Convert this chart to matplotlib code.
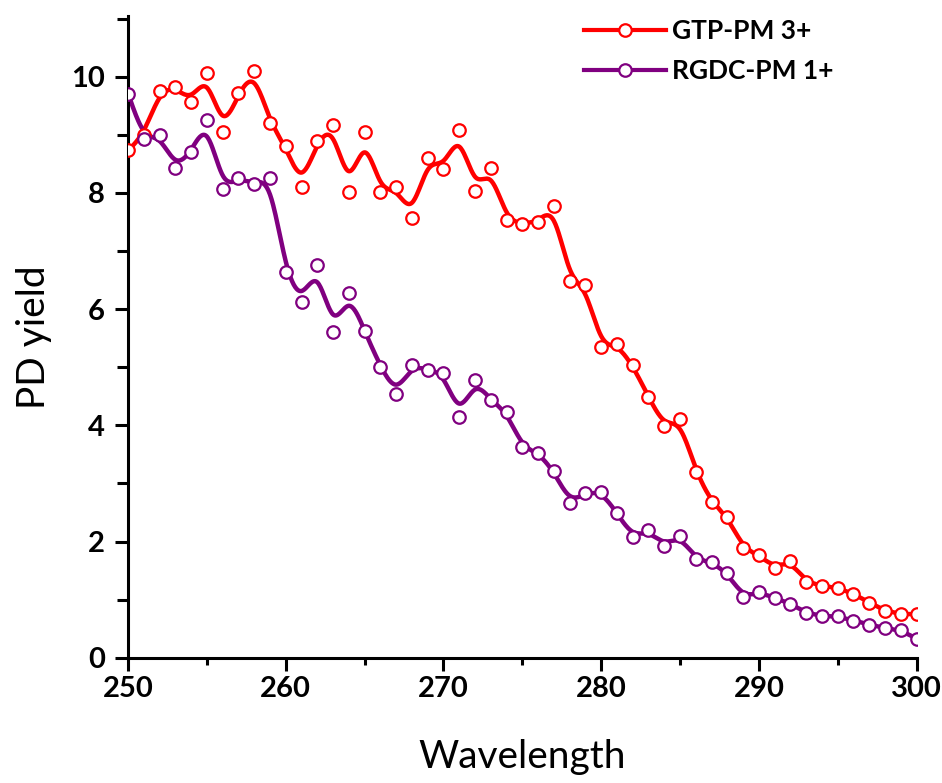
import numpy as np
import matplotlib
matplotlib.use("Agg")
import matplotlib.pyplot as plt
from matplotlib.ticker import MultipleLocator


# data
wavelength = list(range(250, 301))

gtp_pm3 = [8.73, 9.00, 9.75, 9.82, 9.57, 10.06, 9.05, 9.72, 10.10, 9.20,
           8.80, 8.10, 8.90, 9.16, 8.01, 9.04, 8.01, 8.10, 7.57, 8.60,
           8.41, 9.08, 8.04, 8.43, 7.53, 7.47, 7.50, 7.78, 6.49, 6.41,
           5.35, 5.40, 5.03, 4.49, 3.98, 4.10, 3.20, 2.68, 2.43, 1.89,
           1.76, 1.55, 1.67, 1.30, 1.24, 1.20, 1.10, 0.95, 0.81, 0.75,
           0.75]

rgdc_pm1 = [9.71, 8.92, 9.00, 8.43, 8.70, 9.26, 8.07, 8.26, 8.15, 8.26,
            6.63, 6.12, 6.76, 5.60, 6.28, 5.62, 5.01, 4.54, 5.03, 4.96,
            4.90, 4.14, 4.78, 4.43, 4.23, 3.62, 3.53, 3.21, 2.67, 2.83,
            2.86, 2.49, 2.08, 2.19, 1.93, 2.10, 1.70, 1.64, 1.46, 1.04,
            1.13, 1.03, 0.93, 0.77, 0.72, 0.71, 0.64, 0.57, 0.51, 0.47,
            0.33]

series_names = ["GTP-PM 3+", "RGDC-PM 1+"]
series_colors = ["#ff0000", "#800080"]


# uniform cubic B-spline using the data as control points
def bspline( x, y, steps=20 ):

    x = np.asarray( x, dtype=float )

    y = np.asarray( y, dtype=float )

    px = np.concatenate( [[2*x[0] - x[1]], x, [2*x[-1] - x[-2]]] )

    py = np.concatenate( [[2*y[0] - y[1]], y, [2*y[-1] - y[-2]]] )

    t = np.linspace( 0, 1, steps, endpoint=False )

    b0 = (1 - t)**3 / 6
    b1 = (3*t**3 - 6*t**2 + 4) / 6
    b2 = (-3*t**3 + 3*t**2 + 3*t + 1) / 6
    b3 = t**3 / 6

    xs, ys = [], []

    for i in range( len(px) - 3 ):

        xs.append( b0*px[i] + b1*px[i+1] + b2*px[i+2] + b3*px[i+3] )

        ys.append( b0*py[i] + b1*py[i+1] + b2*py[i+2] + b3*py[i+3] )

    xs.append( [x[-1]] )

    ys.append( [y[-1]] )

    return np.concatenate( xs ), np.concatenate( ys )


plt.rcParams["font.family"] = ["Lato", "DejaVu Sans"]

fig = plt.figure( figsize=(9.42, 7.83), dpi=100 )

ax = fig.add_axes( [0.136, 0.16, 0.837, 0.82] )

for vals, name, col in zip( [gtp_pm3, rgdc_pm1], series_names, series_colors ):

    sx, sy = bspline( wavelength, vals )

    ax.plot( sx, sy, color=col, lw=3.2, zorder=2 )

    ax.plot( wavelength, vals, "o", ms=9, mfc="white", mec=col, mew=1.6, zorder=3 )

    # legend proxy
    ax.plot( [], [], color=col, lw=3, marker="o", ms=9, mfc="white",
             mec=col, mew=1.6, label=name )

ax.set_xlim( 250, 300 )

ax.set_ylim( 0, 11.05 )

ax.xaxis.set_major_locator( MultipleLocator(10) )

ax.xaxis.set_minor_locator( MultipleLocator(5) )

ax.yaxis.set_major_locator( MultipleLocator(2) )

ax.yaxis.set_minor_locator( MultipleLocator(1) )

for side in ["top", "right"]:

    ax.spines[side].set_visible( False )

for side in ["left", "bottom"]:

    ax.spines[side].set_linewidth( 2.2 )

ax.tick_params( which="major", direction="out", length=9.5, width=2.2, labelsize=21 )

ax.tick_params( axis="x", which="major", pad=4 )

ax.tick_params( axis="y", which="major", pad=7 )

ax.tick_params( axis="x", which="minor", direction="out", length=5, width=2.2 )

ax.tick_params( axis="y", which="minor", direction="out", length=8, width=2.2 )

for lab in ax.get_xticklabels() + ax.get_yticklabels():

    lab.set_fontweight( "bold" )

ax.set_xlabel( "Wavelength", fontsize=28, labelpad=26 )

ax.set_ylabel( "PD yield", fontsize=28, labelpad=14 )

leg = ax.legend( loc="upper left", bbox_to_anchor=(584/942, 1 - 19/783),
                 bbox_transform=fig.transFigure, frameon=False, borderpad=0,
                 borderaxespad=0, prop={"size": 19, "weight": "bold"},
                 handlelength=3.1, labelspacing=0.6, handletextpad=0.25 )

fig.savefig( "out.png", dpi=100 )
